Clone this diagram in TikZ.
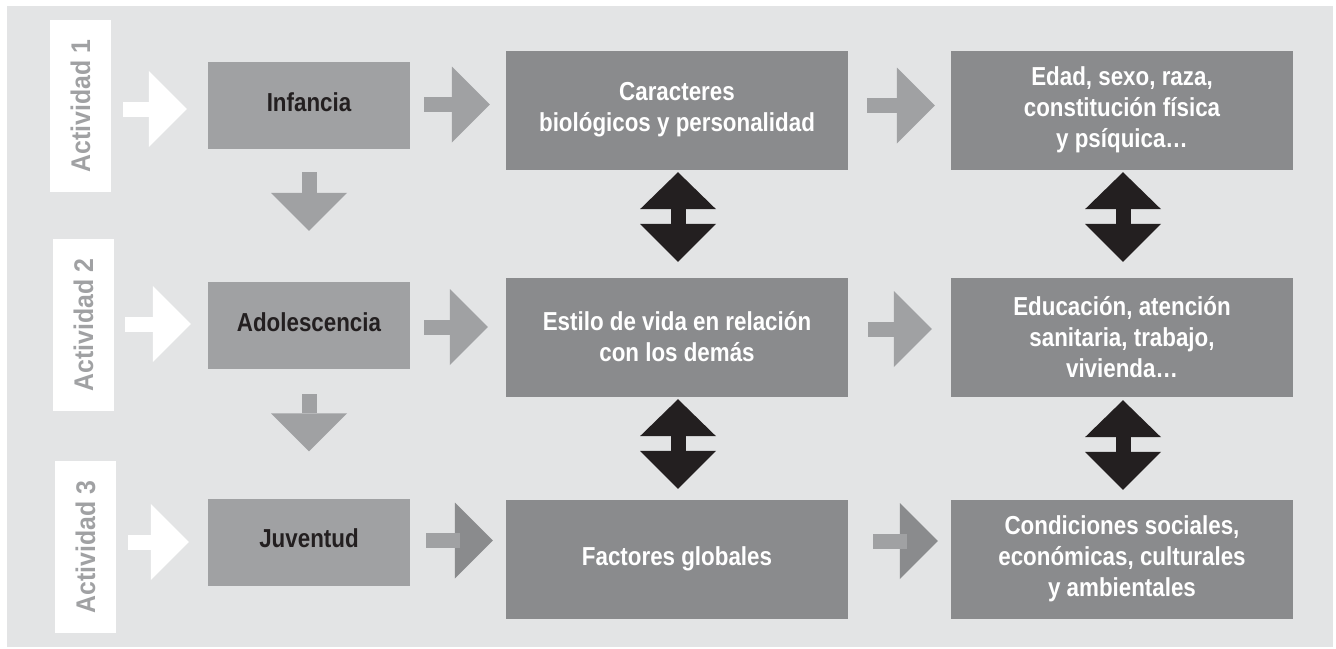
\documentclass[tikz,border=0pt]{standalone}
\usepackage{fontspec}
\setmainfont{Liberation Sans}
\newfontfamily\boxfont[FakeStretch=0.86]{Liberation Sans}
\newfontfamily\actfont[FakeStretch=0.92]{Liberation Sans}
\usetikzlibrary{arrows.meta}
\definecolor{bggrey}{HTML}{E3E4E5}
\definecolor{lgrey}{HTML}{A0A1A3}
\definecolor{dgrey}{HTML}{8A8B8D}
\definecolor{ink}{HTML}{231F20}
\tikzset{
  lvl/.style={fill=lgrey, text=ink, minimum width=202pt, minimum height=87pt, inner sep=0pt,
    text depth=7pt, font=\boxfont\bfseries\fontsize{26}{31}\selectfont},
  big/.style={fill=dgrey, text=white, minimum width=342pt, minimum height=119pt, inner sep=0pt,
    align=center, font=\boxfont\bfseries\fontsize{26}{31}\selectfont},
  actbox/.style={fill=white, minimum width=61pt, minimum height=172pt, inner sep=0pt},
  acttext/.style={rotate=90, text=lgrey, inner sep=0pt, font=\actfont\bfseries\fontsize{27}{30}\selectfont},
  tipA/.style={-{Triangle[length=38pt,width=76pt,line width=0pt]}},
  harrow/.style={draw=lgrey, line width=15pt, tipA},
  harrowdark/.style={draw=dgrey, line width=15pt, tipA},
  shaftlight/.style={draw=lgrey, line width=15pt},
  warrow/.style={draw=white, line width=15pt, tipA},
  barrow/.style={draw=ink, line width=15pt,
    {Triangle[length=37pt,width=76pt,line width=0pt]}-{Triangle[length=38pt,width=76pt,line width=0pt]}}
}
\begin{document}
\begin{tikzpicture}[x=1pt,y=-1pt]
\useasboundingbox (0,0) rectangle (1336,648);
\fill[bggrey] (7,6) rectangle (1333,647);

% Actividad labels
\node[actbox] (act1) at (80.5,106) {};
\node[actbox] (act2) at (83.5,325) {};
\node[actbox] (act3) at (85.5,547) {};
\node[acttext] (t1) at (act1) {Actividad 1};
\node[acttext] (t2) at (act2) {Actividad 2};
\node[acttext] (t3) at (act3) {Actividad 3};

% Stage boxes
\node[lvl] (inf) at (309,105.5) {Infancia};
\node[lvl] (ado) at (309,325.5) {Adolescencia};
\node[lvl] (juv) at (309,542) {Juventud};

% Middle column
\node[big] (car) at (677,110) {Caracteres\\biológicos y personalidad};
\node[big] (est) at (677,337) {Estilo de vida en relación\\con los demás};
\node[big] (fac) at (677,559) {Factores globales};

% Right column
\node[big] (eda) at (1122,110) {Edad, sexo, raza,\\constitución física\\y psíquica…};
\node[big] (edu) at (1122,337) {Educación, atención\\sanitaria, trabajo,\\vivienda…};
\node[big] (con) at (1122,559) {Condiciones sociales,\\económicas, culturales\\y ambientales};

% White arrows
\coordinate (w1) at ([yshift=-3pt]act1.east);
\coordinate (w2) at ([yshift=1pt]act2.east);
\coordinate (w3) at ([yshift=5pt]act3.east);
\draw[warrow, shorten <=12pt, shorten >=21pt] (w1) -- (w1 -| inf.west);
\draw[warrow, shorten <=11pt, shorten >=17pt] (w2) -- (w2 -| ado.west);
\draw[warrow, shorten <=12pt, shorten >=19pt] (w3) -- (w3 -| juv.west);

% Grey arrows row 1
\coordinate (r1a) at ([yshift=1pt]inf.east);
\coordinate (r1b) at ([yshift=4.5pt]car.east);
\draw[harrow, shorten <=14pt, shorten >=16pt] (r1a) -- (r1a -| car.west);
\draw[harrow, shorten <=19pt, shorten >=16pt] (r1b) -- (r1b -| eda.west);

% Grey arrows row 2
\coordinate (r2a) at ([yshift=-1.5pt]ado.east);
\coordinate (r2b) at ([yshift=8pt]est.east);
\draw[harrow, shorten <=14pt, shorten >=18pt] (r2a) -- (r2a -| est.west);
\draw[harrow, shorten <=20pt, shorten >=19pt] (r2b) -- (r2b -| edu.west);

% Grey arrows row 3 (two-tone)
\coordinate (r3a) at ([yshift=1.5pt]juv.east);
\coordinate (r3b) at ([yshift=18pt]fac.east);
\draw[harrowdark, shorten <=16pt, shorten >=13pt] (r3a) -- (r3a -| fac.west);
\draw[shaftlight, shorten <=16pt] (r3a) -- ++(50,0);
\draw[harrowdark, shorten <=25pt, shorten >=13pt] (r3b) -- (r3b -| con.west);
\draw[shaftlight, shorten <=25pt] (r3b) -- ++(59,0);

% Down arrows
\draw[harrow, shorten <=23pt, shorten >=51pt] (inf.south) -- (ado.north);
\draw[harrow, shorten <=25pt, shorten >=47pt] (ado.south) -- (juv.north);

% Black double arrows
\draw[barrow, shorten <=2.5pt, shorten >=15.5pt] ([xshift=1pt]car.south) -- ([xshift=1pt]est.north);
\draw[barrow, shorten <=2.5pt, shorten >=10.5pt] ([xshift=1pt]est.south) -- ([xshift=1pt]fac.north);
\draw[barrow, shorten <=2.5pt, shorten >=15.5pt] ([xshift=1pt]eda.south) -- ([xshift=1pt]edu.north);
\draw[barrow, shorten <=3.5pt, shorten >=9.5pt] ([xshift=1pt]edu.south) -- ([xshift=1pt]con.north);
\end{tikzpicture}
\end{document}
